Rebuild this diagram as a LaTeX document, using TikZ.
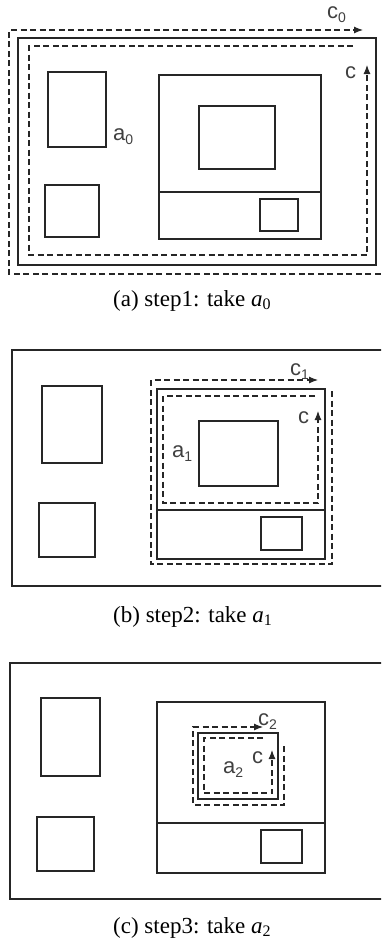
\documentclass[tikz,border=0pt]{standalone}
\usepackage{fontspec}
\setmainfont{Liberation Serif}
\newfontfamily\labfont{Liberation Sans}
\usetikzlibrary{arrows.meta}
\newcommand\lbl[2]{{\color{black!75}\fontsize{22}{22}\labfont #1\raisebox{-4pt}{\fontsize{14}{14}\labfont #2}}}
\newcommand\capt[2]{{\fontsize{23}{23}\selectfont #1 \textit{a}\raisebox{-3pt}{\fontsize{16}{16}\selectfont #2}}}
\tikzset{
  solidbox/.style={draw=black!85, line width=1.1pt},
  dpath/.style={draw=black!85, line width=1.1pt, dash pattern=on 6pt off 3.5pt},
  darrow/.style={dpath, -{Latex[length=9pt,width=7pt]}},
  labnode/.style={inner sep=0pt, anchor=base west},
}
\begin{document}
\begin{tikzpicture}[x=1pt,y=-1pt]
\useasboundingbox (0,0) rectangle (381,940);
\clip (0,0) rectangle (381,940);
% ---------- panel (a) ----------
\draw[solidbox] (18,38) rectangle (376,265);
\draw[solidbox] (48,72) rectangle (106,147);
\draw[solidbox] (45,185) rectangle (99,237);
\draw[solidbox] (159,75) rectangle (321,239);
\draw[solidbox] (159,192) -- (321,192);
\draw[solidbox] (199,106) rectangle (275,169);
\draw[solidbox] (260,199) rectangle (298,231);
\draw[darrow] (390,274) -- (9,274) -- (9,30) -- (363,30);
\draw[darrow] (353,46) -- (29,46) -- (29,255) -- (367,255) -- (367,65);
\node[labnode] (c0) at (327,18) {\lbl{c}{0}};
\node[labnode] (ca) at (345,78) {\lbl{c}{}};
\node[labnode] (a0) at (113,140) {\lbl{a}{0}};
\node[labnode] (capa) at (113,306) {\capt{(a) step1: take}{0}};
% ---------- panel (b) ----------
\draw[solidbox] (12,350) rectangle (400,586);
\draw[solidbox] (42,386) rectangle (102,463);
\draw[solidbox] (39,503) rectangle (95,557);
\draw[solidbox] (157,389) rectangle (325,559);
\draw[solidbox] (157,510) -- (325,510);
\draw[solidbox] (199,421) rectangle (278,486);
\draw[solidbox] (261,517) rectangle (302,550);
\draw[darrow] (332,391) -- (332,564) -- (151,564) -- (151,380) -- (318,380);
\draw[darrow] (315,396) -- (163,396) -- (163,503) -- (318,503) -- (318,411);
\node[labnode] (c1) at (290,375) {\lbl{c}{1}};
\node[labnode] (cb) at (298,423) {\lbl{c}{}};
\node[labnode] (a1) at (172,457) {\lbl{a}{1}};
\node[labnode] (capb) at (113,622) {\capt{(b) step2: take}{1}};
% ---------- panel (c) ----------
\draw[solidbox] (10,663) rectangle (400,899);
\draw[solidbox] (41,698) rectangle (100,776);
\draw[solidbox] (37,817) rectangle (94,871);
\draw[solidbox] (157,702) rectangle (325,873);
\draw[solidbox] (157,823) -- (325,823);
\draw[solidbox] (198,733) rectangle (278,799);
\draw[solidbox] (261,830) rectangle (302,863);
\draw[darrow] (284,746) -- (284,805) -- (193,805) -- (193,727) -- (263,727);
\draw[darrow] (263,738) -- (204,738) -- (204,793) -- (272,793) -- (272,750);
\node[labnode] (c2) at (258,725) {\lbl{c}{2}};
\node[labnode] (cc) at (252,763) {\lbl{c}{}};
\node[labnode] (a2) at (223,773) {\lbl{a}{2}};
\node[labnode] (capc) at (113,933) {\capt{(c) step3: take}{2}};
\end{tikzpicture}
\end{document}
